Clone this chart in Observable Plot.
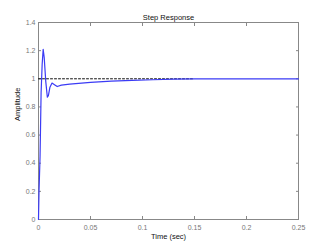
<!DOCTYPE html>
<html><head><meta charset="utf-8">
<script src="https://cdn.jsdelivr.net/npm/d3@7"></script>
<script src="https://cdn.jsdelivr.net/npm/@observablehq/plot@0.6"></script>
<style>body{margin:0;background:#fff;font-family:Arial,"Liberation Sans",sans-serif}</style>
</head><body><div id="chart"></div>
<script>
const time = [0, 0.0005, 0.0015, 0.0025, 0.0035, 0.0045, 0.0055, 0.007, 0.0085, 0.0095, 0.011, 0.013, 0.015, 0.018, 0.022, 0.03, 0.05, 0.07, 0.09, 0.11, 0.13, 0.15, 0.25];
const amplitude = [0, 0.2, 0.45, 0.9, 1.1, 1.21, 1.15, 0.98, 0.87, 0.88, 0.94, 0.97, 0.96, 0.945, 0.955, 0.962, 0.975, 0.983, 0.988, 0.993, 0.997, 1.0, 1.0];
const refTime = [0, 0.148];
const refValue = [1, 1];
const xTicks = [0, 0.05, 0.1, 0.15, 0.2, 0.25];
const yTicks = [0, 0.2, 0.4, 0.6, 0.8, 1, 1.2, 1.4];
const title = "Step Response";
const xLabel = "Time (sec)";
const yLabel = "Amplitude";

const resp = time.map((t, i) => ({t, a: amplitude[i]}));
const ref = refTime.map((t, i) => ({t, a: refValue[i]}));
const fmt = d => String(+d.toFixed(2));
const gray = "#888";

const chart = Plot.plot({
  width: 314, height: 246,
  marginLeft: 38, marginRight: 16, marginTop: 22, marginBottom: 27,
  style: {fontSize: "7px", fontFamily: "Arial, 'Liberation Sans', sans-serif", background: "#fff"},
  x: {domain: [0, 0.25]},
  y: {domain: [0, 1.4]},
  marks: [
    Plot.frame({stroke: gray}),
    Plot.axisX(xTicks, {anchor: "bottom", tickSize: -3, tickPadding: 9, tickFormat: fmt, stroke: gray, color: "#777", label: null}),
    Plot.axisX(xTicks, {anchor: "top", tickSize: -3, tickFormat: () => "", stroke: gray, label: null}),
    Plot.axisY(yTicks, {anchor: "left", tickSize: -3, tickPadding: 6, tickFormat: fmt, stroke: gray, color: "#777", label: null}),
    Plot.axisY(yTicks, {anchor: "right", tickSize: -3, tickFormat: () => "", stroke: gray, label: null}),
    Plot.line(ref, {x: "t", y: "a", stroke: "#111", strokeWidth: 1, strokeDasharray: "2,2"}),
    Plot.line(resp, {x: "t", y: "a", stroke: "#3b3bf5", strokeWidth: 1.2}),
    Plot.text([title], {frameAnchor: "top", dy: -8, fill: "#111", fontSize: 7.5}),
    Plot.text([xLabel], {frameAnchor: "bottom", dy: 19, fill: "#111", fontSize: 7.5}),
    Plot.text([yLabel], {frameAnchor: "left", dx: -21, rotate: -90, fill: "#111", fontSize: 7.5})
  ]
});
document.getElementById("chart").append(chart);
</script></body></html>
